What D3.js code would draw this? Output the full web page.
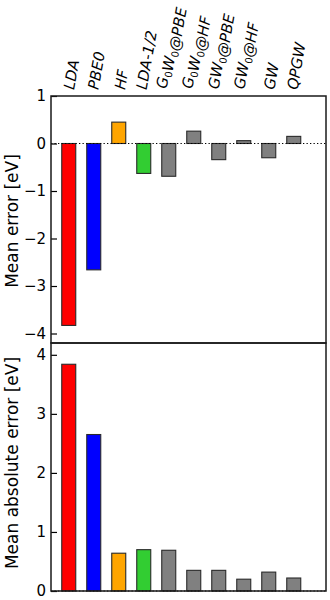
<!DOCTYPE html>
<html>
<head>
<meta charset="utf-8">
<script src="https://cdn.jsdelivr.net/npm/d3@7"></script>
<style>
  body { margin: 0; background: #fff; }
  svg { display: block; font-family: 'DejaVu Sans', sans-serif; }
</style>
</head>
<body>
<div id="chart"></div>
<script>
// methods (_0 marks a subscript zero)
var methods = ['LDA', 'PBE0', 'HF', 'LDA-1/2', 'G_0W_0@PBE', 'G_0W_0@HF',
    'GW_0@PBE', 'GW_0@HF', 'GW', 'QPGW'];
var meanError = [-3.83, -2.66, 0.45, -0.63, -0.69, 0.26, -0.34, 0.06, -0.30, 0.15];
var meanAbsError = [3.84, 2.65, 0.64, 0.70, 0.69, 0.35, 0.35, 0.20, 0.32, 0.22];
var barColors = ['#ff0000', '#0000ff', '#ffa500', '#32cd32', '#808080', '#808080',
    '#808080', '#808080', '#808080', '#808080'];
var topTicks = [1, 0, -1, -2, -3, -4];
var bottomTicks = [0, 1, 2, 3, 4];

var width = 330, height = 600,
    left = 51, right = 326,
    top1 = 96, mid = 343, bottom2 = 591;

var svg = d3.select('#chart').append('svg')
    .attr('width', width)
    .attr('height', height);

var x = d3.scaleLinear()
    .domain([0, 11])
    .range([left, right]);
var barStart = 0.43, barWidth = 0.56;

var yTop = d3.scaleLinear().domain([-4.2, 1]).range([mid, top1]);
var yBot = d3.scaleLinear().domain([0, 4.2]).range([bottom2, mid]);

function drawPanel(values, y, ticks, label, labelY) {
    var g = svg.append('g');

    g.selectAll('rect.bar')
        .data(values)
        .enter().append('rect')
        .attr('class', 'bar')
        .attr('x', function (d, i) { return x(i + barStart); })
        .attr('width', x(barWidth) - x(0))
        .attr('y', function (d) { return y(Math.max(0, d)); })
        .attr('height', function (d) { return Math.abs(y(d) - y(0)); })
        .style('fill', function (d, i) { return barColors[i]; })
        .style('stroke', '#2a2a2a')
        .style('stroke-width', 1.1);

    // dotted zero line
    g.append('line')
        .attr('x1', left).attr('x2', right)
        .attr('y1', y(0)).attr('y2', y(0))
        .style('stroke', '#000')
        .style('stroke-width', 1.2)
        .style('stroke-dasharray', '1.3,2.2');

    // y axis: inside ticks, labels on the left
    var axis = d3.axisRight(y)
        .tickValues(ticks)
        .tickSize(6)
        .tickFormat('');
    g.append('g')
        .attr('transform', 'translate(' + left + ',0)')
        .call(axis)
        .call(function (a) {
            a.select('.domain').remove();
            a.selectAll('line').style('stroke', '#000').style('stroke-width', 1.2);
        });

    g.selectAll('text.tick')
        .data(ticks)
        .enter().append('text')
        .attr('class', 'tick')
        .attr('x', left - 5)
        .attr('y', function (d) { return y(d); })
        .attr('dy', '0.36em')
        .attr('text-anchor', 'end')
        .style('font-size', '15px')
        .text(function (d) { return d < 0 ? '\u2212' + Math.abs(d) : d; });

    g.append('text')
        .attr('transform', 'translate(18,' + labelY + ') rotate(-90)')
        .attr('text-anchor', 'middle')
        .style('font-size', '17px')
        .text(label);

    // frame
    g.append('rect')
        .attr('x', left)
        .attr('y', y.range()[1])
        .attr('width', right - left)
        .attr('height', y.range()[0] - y.range()[1])
        .style('fill', 'none')
        .style('stroke', '#1a1a1a')
        .style('stroke-width', 1.5);
}

drawPanel(meanError, yTop, topTicks, 'Mean error [eV]', 221);
drawPanel(meanAbsError, yBot, bottomTicks, 'Mean absolute error [eV]', 463);

// rotated method labels above the top panel
methods.forEach(function (m, i) {
    var outer = svg.append('g');
    var t = outer.append('g')
        .attr('transform', 'rotate(-80)')
        .append('text')
        .style('font-size', '15px')
        .style('font-style', 'italic');
    m.split(/(_0)/).forEach(function (part) {
        if (!part) return;
        if (part === '_0') {
            t.append('tspan').attr('dy', 3)
                .style('font-size', '10px')
                .style('font-style', 'normal')
                .text('0');
            t.append('tspan').attr('dy', -3).text('');
        } else {
            t.append('tspan').text(part);
        }
    });
    var bb = outer.node().getBBox();
    var cx = x(i + barStart + barWidth / 2) + 3;
    outer.attr('transform', 'translate(' + (cx - (bb.x + bb.width / 2)) + ',' +
        (91 - (bb.y + bb.height)) + ')');
});
</script>
</body>
</html>
